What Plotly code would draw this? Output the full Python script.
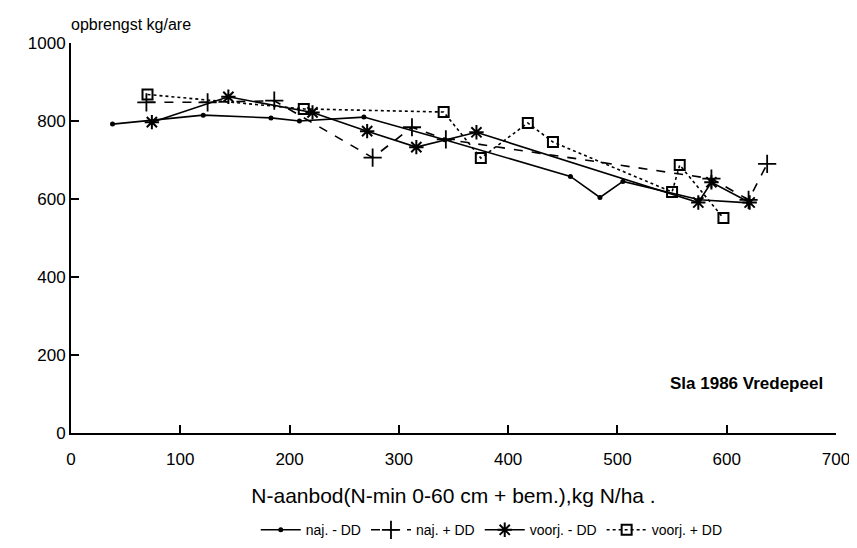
import plotly.graph_objects as go

# naj. - DD (solid, dots)
naj_min_x = [38, 121, 183, 209, 268, 342, 457, 484, 505, 575, 620]
naj_min_y = [792, 815, 808, 800, 810, 752, 658, 604, 645, 598, 590]

# naj. + DD (dashed, plus)
naj_plus_x = [69, 125, 186, 276, 312, 343, 586, 620, 637]
naj_plus_y = [848, 848, 852, 706, 784, 753, 652, 598, 690]

# voorj. - DD (solid, asterisk)
voorj_min_x = [74, 144, 221, 271, 316, 371, 574, 586, 621]
voorj_min_y = [797, 862, 822, 774, 733, 771, 591, 643, 591]

# voorj. + DD (dotted, squares)
voorj_plus_x = [70, 213, 341, 375, 418, 441, 550, 557, 597]
voorj_plus_y = [868, 831, 823, 705, 795, 746, 618, 687, 551]

x_ticks = [0, 100, 200, 300, 400, 500, 600, 700]
y_ticks = [0, 200, 400, 600, 800, 1000]

FONT = "Liberation Sans, Arial, sans-serif"

fig = go.Figure()
fig.add_trace(go.Scatter(
    x=naj_min_x, y=naj_min_y, name="naj. - DD", mode="lines+markers",
    line=dict(color="black", width=1.6, dash="solid"),
    marker=dict(symbol="circle", size=5, color="black")))
fig.add_trace(go.Scatter(
    x=naj_plus_x, y=naj_plus_y, name="naj. + DD", mode="lines+markers",
    line=dict(color="black", width=1.6, dash="dash"),
    marker=dict(symbol="cross-thin", size=13, color="black",
                line=dict(color="black", width=1.8))))
fig.add_trace(go.Scatter(
    x=voorj_min_x, y=voorj_min_y, name="voorj. - DD", mode="lines+markers",
    line=dict(color="black", width=1.6, dash="solid"),
    marker=dict(symbol="asterisk", size=12, color="black",
                line=dict(color="black", width=2))))
fig.add_trace(go.Scatter(
    x=voorj_plus_x, y=voorj_plus_y, name="voorj. + DD", mode="lines+markers",
    line=dict(color="black", width=1.6, dash="dot"),
    marker=dict(symbol="square-open", size=10, color="black",
                line=dict(color="black", width=2))))

fig.update_layout(
    width=849, height=540,
    paper_bgcolor="white", plot_bgcolor="white",
    font=dict(family=FONT, color="black", size=16),
    margin=dict(l=63, r=21, t=35, b=115),
    showlegend=True,
    legend=dict(orientation="h", x=0.55, xanchor="center",
                yref="container", y=0.033, yanchor="middle",
                font=dict(size=14), itemwidth=40, tracegroupgap=0,
                bgcolor="rgba(0,0,0,0)"),
    xaxis=dict(range=[0, 700], tickvals=x_ticks, ticks="inside", ticklen=8,
               tickcolor="black", tickwidth=1.5, showline=True, linecolor="black",
               linewidth=2, showgrid=False, zeroline=False, automargin=False,
               tickfont=dict(size=17), ticklabelstandoff=10,
               title=dict(text="N-aanbod(N-min 0-60 cm + bem.),kg N/ha .",
                          font=dict(size=21), standoff=20)),
    yaxis=dict(range=[0, 1000], tickvals=y_ticks, ticks="inside", ticklen=8,
               tickcolor="black", tickwidth=1.5, showline=True, linecolor="black",
               linewidth=2, showgrid=False, zeroline=False, automargin=False,
               tickfont=dict(size=17)),
    annotations=[
        dict(text="opbrengst kg/are", xref="paper", yref="paper", x=-0.003, y=1.0,
             xanchor="left", yanchor="bottom", yshift=8, showarrow=False,
             font=dict(size=16)),
        dict(text="<b>Sla 1986 Vredepeel</b>", xref="x", yref="y", x=690, y=127,
             xanchor="right", yanchor="middle", showarrow=False,
             font=dict(size=17)),
    ],
)

fig.write_html("out.html")
